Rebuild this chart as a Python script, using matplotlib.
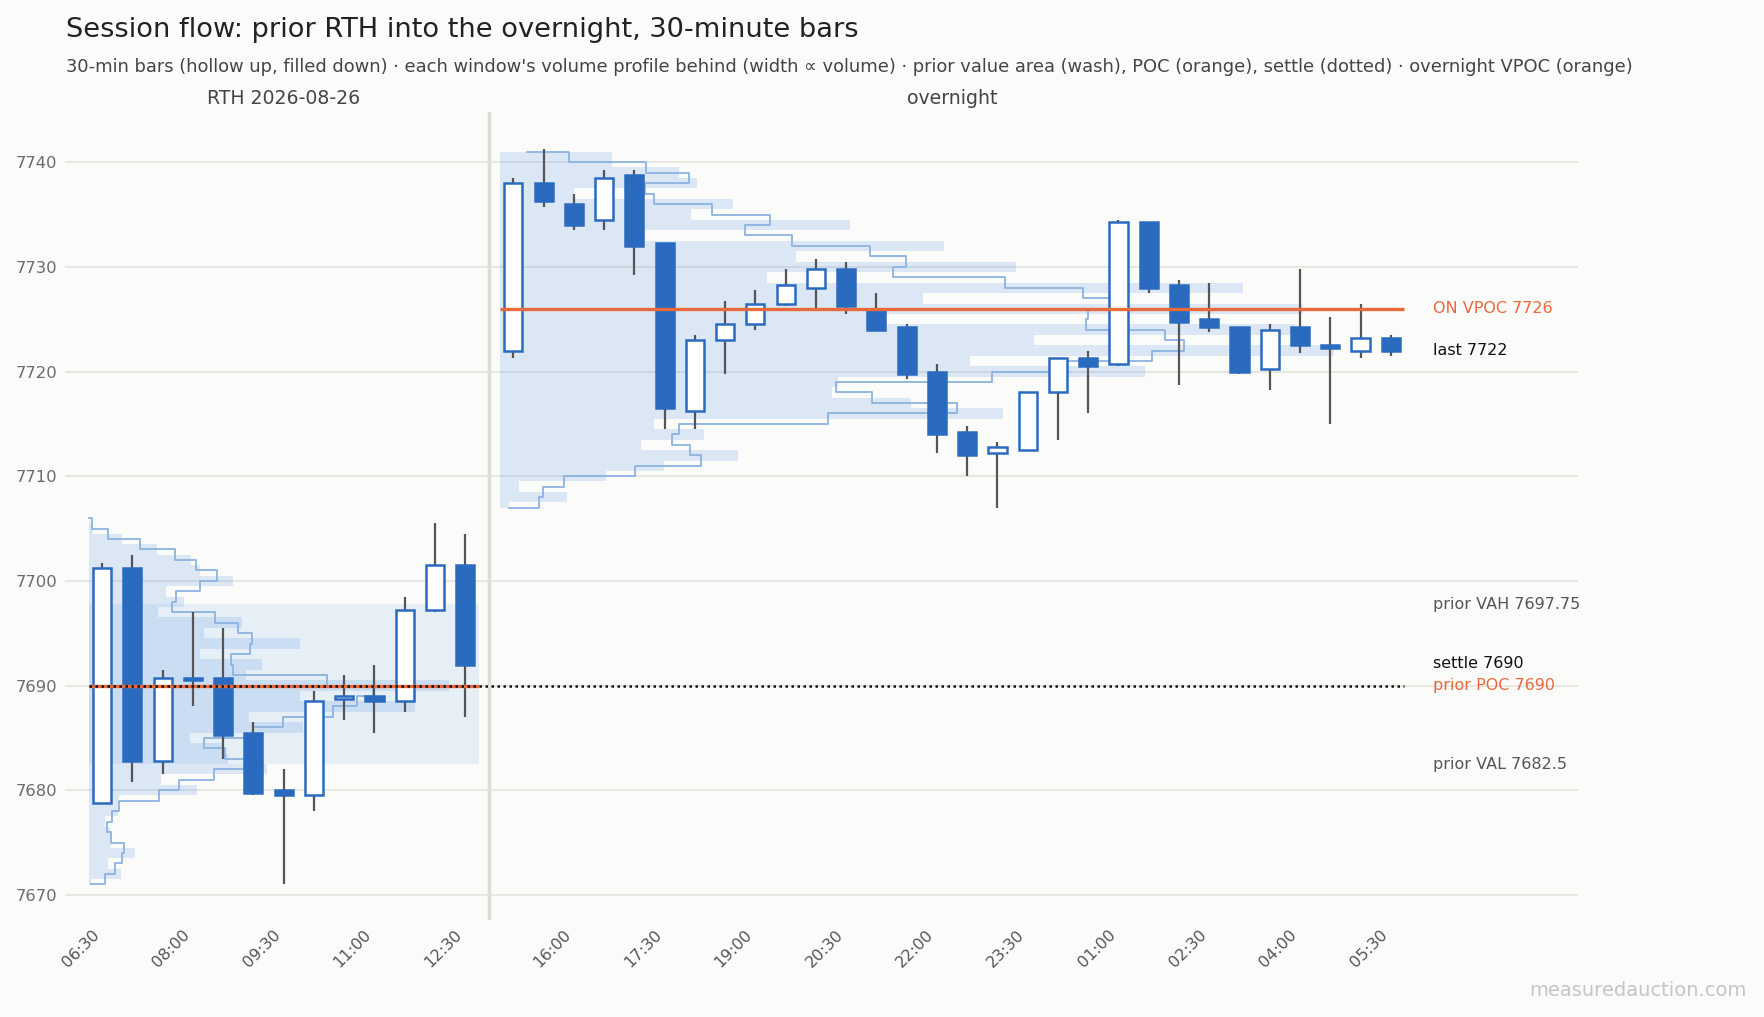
import numpy as np
import pandas as pd
import matplotlib
matplotlib.use("Agg")
import matplotlib.pyplot as plt
import matplotlib.transforms as mtransforms

# ---- data -----------------------------------------------------------------
rth_times = pd.date_range("2026-08-26 06:30", periods=13, freq="30min")
on_times = pd.date_range("2026-08-26 15:00", periods=30, freq="30min")

rth_open = [7678.75, 7701.25, 7682.75, 7690.5, 7690.75, 7685.5, 7680, 7679.5,
            7688.75, 7689, 7688.5, 7697.25, 7701.5]
rth_high = [7701.75, 7702.5, 7691.5, 7697, 7695.5, 7686.5, 7682, 7689.5,
            7691, 7692, 7698.5, 7705.5, 7704.5]
rth_low = [7678.75, 7680.75, 7681.5, 7688, 7683, 7679.5, 7671, 7678,
           7686.75, 7685.5, 7687.5, 7697, 7687]
rth_close = [7701.25, 7682.75, 7690.75, 7690.75, 7685.25, 7679.75, 7679.5, 7688.5,
             7689, 7688.5, 7697.25, 7701.5, 7692]

on_open = [7722, 7738, 7736, 7734.5, 7738.75, 7732.25, 7716.25, 7723, 7724.5, 7726.5,
           7728, 7729.75, 7726, 7724.25, 7720, 7714.25, 7712.25, 7712.5, 7718, 7721.25,
           7720.75, 7734.25, 7728.25, 7725, 7724.25, 7720.25, 7724.25, 7722.5, 7722, 7723.25]
on_high = [7738.5, 7741.25, 7737, 7739.25, 7739.25, 7732.25, 7723.5, 7726.75, 7727.75, 7729.75,
           7730.75, 7730.5, 7727.5, 7724.5, 7720.75, 7714.75, 7713.25, 7718, 7721.25, 7722,
           7734.5, 7734.25, 7728.75, 7728.5, 7724.25, 7724.5, 7729.75, 7725.25, 7726.5, 7723.5]
on_low = [7721.25, 7735.75, 7733.5, 7733.5, 7729.25, 7714.5, 7714.5, 7719.75, 7724, 7726.25,
          7725.75, 7725.5, 7724, 7719.25, 7712.25, 7710, 7707, 7712.5, 7713.5, 7716,
          7720.5, 7727.5, 7718.75, 7723.75, 7719.75, 7718.25, 7721.75, 7715, 7721.25, 7721.5]
on_close = [7738, 7736.25, 7734, 7738.5, 7732, 7716.5, 7723, 7724.5, 7726.5, 7728.25,
            7729.75, 7726.25, 7724, 7719.75, 7714, 7712, 7712.75, 7718, 7721.25, 7720.5,
            7734.25, 7728, 7724.75, 7724.25, 7720, 7724, 7722.5, 7722.25, 7723.25, 7722]

# volume at price, 1-point rows (RTH 7671..7706, overnight 7707..7741)
rth_prof_lo, rth_prof_hi = 7671, 7706
rth_vol = [7, 106, 66, 152, 75, 72, 53, 96, 102, 360, 238, 590, 460, 440, 334, 710,
           532, 1078, 698, 1193, 520, 575, 367, 698, 383, 506, 231, 317, 257, 478,
           367, 339, 227, 111, 14, 5]
on_prof_lo, on_prof_hi = 7707, 7741
on_vol = [32, 222, 63, 350, 543, 787, 467, 675, 509, 1663, 1360, 1099, 1118, 2133,
          1554, 2757, 1767, 2630, 1277, 2654, 1399, 2458, 883, 1707, 980, 1468, 480,
          1157, 632, 770, 247, 652, 592, 370, 370]

# outline profile between the integer price levels, plus its two end values
rth_outline = [56, 86, 111, 117, 75, 61, 77, 100, 233, 299, 414, 532, 450, 383, 543,
               642, 808, 888, 940, 788, 477, 472, 535, 541, 494, 417, 277, 290, 367,
               424, 356, 285, 169, 64, 11]
rth_outline_ends = [7, 1]
on_outline = [131, 144, 211, 448, 666, 629, 570, 594, 1086, 1511, 1229, 1113, 1626,
              1841, 2157, 2263, 2200, 1937, 1945, 2039, 1929, 1671, 1299, 1344, 1225,
              967, 812, 894, 703, 510, 480, 624, 482, 230]
on_outline_ends = [32, 90]

settle = 7690
prior_poc = 7690
prior_vah = 7697.75
prior_val = 7682.5
on_vpoc = 7726

# ---- style ----------------------------------------------------------------
BG = "#fbfbf9"
BLUE = "#2a6bbf"
ORANGE = "#e8693a"
WICK = "#555555"
PROF = "#4a90e2"
VOL_PER_SLOT = 100.0
HALF = 0.45
BODY_W = 0.6

rth_x = np.arange(len(rth_open), dtype=float)
on_x = np.arange(len(on_open), dtype=float) + 13.59

fig = plt.figure(figsize=(17.64, 10.17), dpi=100, facecolor=BG)
ax = fig.add_axes([0.0368, 0.0954, 0.8578, 0.7945])
ax.set_facecolor(BG)


def draw_profile(x0, lo, hi, vol, outline, ends):
    prices = np.arange(lo, hi + 1)
    bot = np.maximum(prices - 0.5, lo)
    top = np.minimum(prices + 0.5, hi)
    ax.barh(bot, np.array(vol) / VOL_PER_SLOT, height=top - bot, left=x0,
            align="edge", color=PROF, alpha=0.18, lw=0, zorder=2)
    edges = np.arange(lo, hi + 1)
    xs = np.concatenate([[ends[0]], np.repeat(outline, 2), [ends[1]]]) / VOL_PER_SLOT
    ys = np.repeat(edges, 2)
    ax.plot(x0 + xs, ys, color="#8db3e2", lw=1.3, zorder=3)


def draw_candles(x, o, h, l, c):
    o, h, l, c = map(np.asarray, (o, h, l, c))
    ax.vlines(x, l, h, color=WICK, lw=1.6, zorder=4)
    up = c >= o
    ax.bar(x[up], (c - o)[up], bottom=o[up], width=BODY_W, facecolor="white",
           edgecolor=BLUE, lw=1.8, zorder=5)
    ax.bar(x[~up], (o - c)[~up], bottom=c[~up], width=BODY_W, facecolor=BLUE,
           edgecolor=BLUE, lw=1.8, zorder=5)


# prior value area wash
ax.fill_between([rth_x[0] - HALF, rth_x[-1] + HALF], prior_val, prior_vah,
                color=PROF, alpha=0.11, lw=0, zorder=1)

draw_profile(rth_x[0] - HALF, rth_prof_lo, rth_prof_hi, rth_vol, rth_outline, rth_outline_ends)
draw_profile(on_x[0] - HALF, on_prof_lo, on_prof_hi, on_vol, on_outline, on_outline_ends)

draw_candles(rth_x, rth_open, rth_high, rth_low, rth_close)
draw_candles(on_x, on_open, on_high, on_low, on_close)

# reference levels
ax.hlines(prior_poc, rth_x[0] - HALF, rth_x[-1] + HALF, color=ORANGE, lw=2.4, zorder=6)
ax.hlines(on_vpoc, on_x[0] - HALF, on_x[-1] + HALF, color=ORANGE, lw=2.4, zorder=6)
ax.hlines(settle, rth_x[0] - HALF, on_x[-1] + HALF, color="#111111",
          linestyles=(0, (1, 1.4)), lw=1.8, zorder=7)

# session divider
ax.axvline((rth_x[-1] + on_x[0]) / 2, color="#dedcd6", lw=2.5, zorder=0.5)

# right-hand labels
last = on_close[-1]
lx = on_x[-1] + 1.39
lab = dict(va="center", ha="left", fontsize=11.5)
ax.text(lx, on_vpoc, f"ON VPOC {on_vpoc:g}", color=ORANGE, **lab)
ax.text(lx, last, f"last {last:g}", color="#111111", **lab)
ax.text(lx, prior_vah, f"prior VAH {prior_vah:g}", color="#555555", **lab)
ax.text(lx, settle + 2.1, f"settle {settle:g}", color="#111111", **lab)
ax.text(lx, prior_poc, f"prior POC {prior_poc:g}", color=ORANGE, **lab)
ax.text(lx, prior_val, f"prior VAL {prior_val:g}", color="#555555", **lab)

# session headers
trans = mtransforms.blended_transform_factory(ax.transData, ax.transAxes)
ax.text(rth_x.mean(), 1.0099, f"RTH {rth_times[0]:%Y-%m-%d}", transform=trans,
        ha="center", va="baseline", fontsize=13.6, color="#444444")
ax.text(on_x.mean(), 1.0099, "overnight", transform=trans,
        ha="center", va="baseline", fontsize=13.6, color="#444444")

# axes
ax.set_xlim(-1.23, 48.78)
ax.set_ylim(7667.6, 7744.8)
ticks = list(rth_x[::3]) + list(on_x[2::3])
labels = [t.strftime("%H:%M") for t in rth_times[::3]] + \
         [t.strftime("%H:%M") for t in on_times[2::3]]
ax.set_xticks(ticks)
ax.set_xticklabels(labels, rotation=45, ha="right", fontsize=11.5, color="#555555")
ax.set_yticks(np.arange(7670, 7741, 10))
ax.tick_params(axis="y", length=0, pad=5.5, labelsize=11.8, labelcolor="#6b6b6b")
ax.tick_params(axis="x", length=0, pad=5)
ax.grid(axis="y", color="#e3e3de", lw=1.2)
ax.set_axisbelow(True)
for s in ax.spines.values():
    s.set_visible(False)

fig.text(0.0374, 0.9633, "Session flow: prior RTH into the overnight, 30-minute bars",
         fontsize=19.6, color="#222222", va="baseline")
fig.text(0.0374, 0.9289,
         "30-min bars (hollow up, filled down) \u00b7 each window's volume profile behind "
         "(width \u221d volume) \u00b7 prior value area (wash), POC (orange), settle (dotted) "
         "\u00b7 overnight VPOC (orange)",
         fontsize=12.9, color="#444444", va="baseline")
fig.text(0.99, 0.0256, "measuredauction.com", ha="right", va="center",
         fontsize=14, color="#c5c5c2")

fig.savefig("out.png", dpi=100, facecolor=BG)
